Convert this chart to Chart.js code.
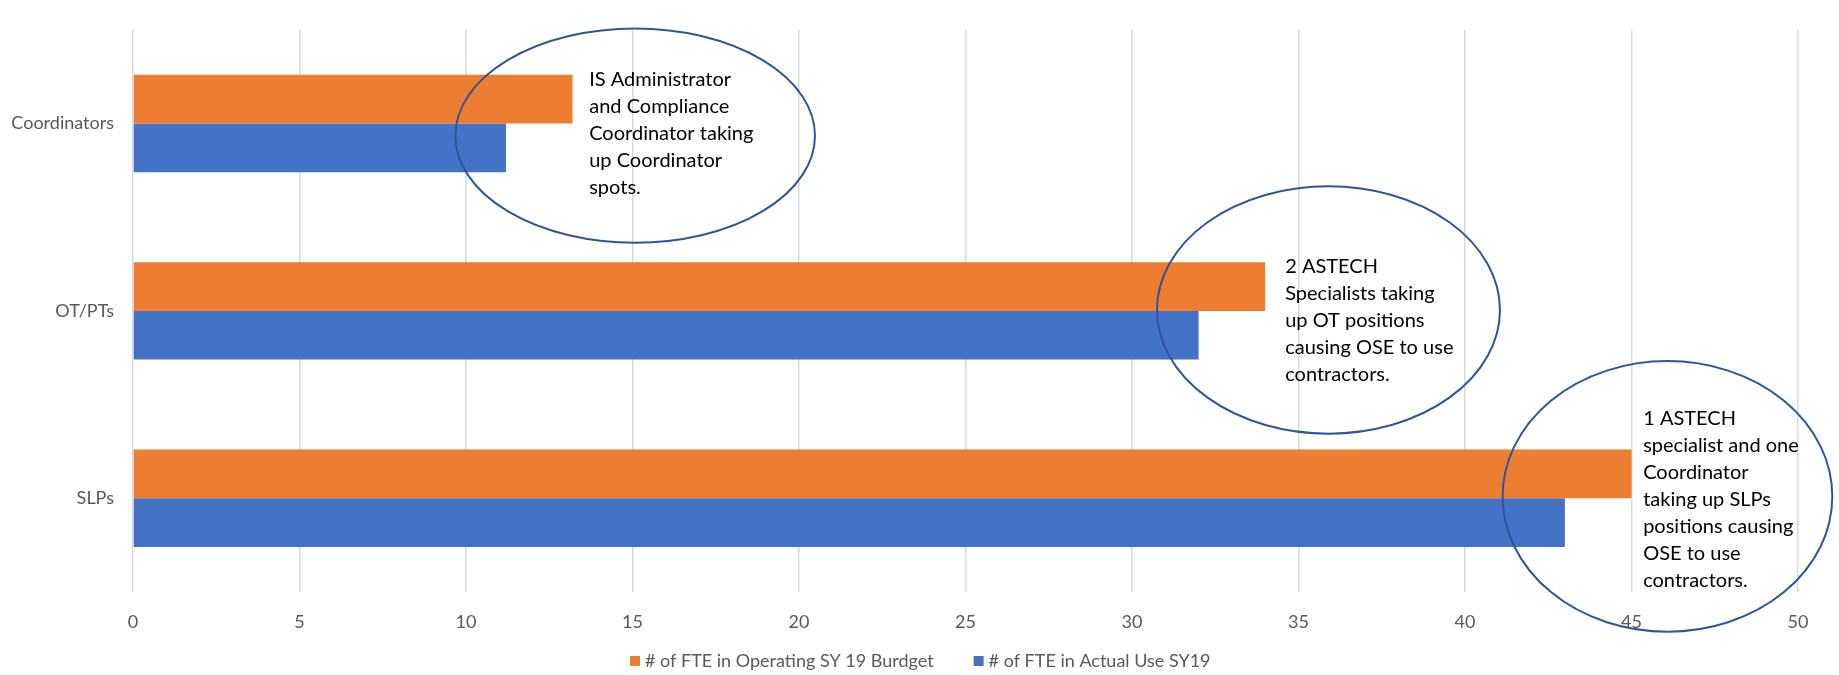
<!DOCTYPE html>
<html>
<head>
<meta charset="utf-8">
<title>FTE by position</title>
<script src="https://cdn.jsdelivr.net/npm/chart.js@4.4.1/dist/chart.umd.min.js"></script>
<style>
  html, body { margin: 0; padding: 0; background: #fff; }
  #wrap { width: 1839px; height: 675px; }
</style>
</head>
<body>
<div id="wrap"><canvas id="fteChart" width="1839" height="675"></canvas></div>
<script>
const categories = ['Coordinators', 'OT/PTs', 'SLPs'];
const budgetFte = [13.2, 34, 45];
const actualFte = [11.2, 32, 43];
const seriesNames = ['# of FTE in Operating SY 19 Burdget', '# of FTE in Actual Use SY19'];
const seriesColors = ['#ED7D31', '#4472C4'];
const xMin = 0;
const xMax = 50;
const xStep = 5;

// callouts: ellipse centre / radii in axis units (x = FTE, y = category rows)
const notes = [
  { row: 0, cx: 15.08, dy: 0.065, rx: 5.4, ry: 0.572, textX: 13.7, textDy: 0.053,
    lines: ['IS Administrator', 'and Compliance', 'Coordinator taking', 'up Coordinator', 'spots.'] },
  { row: 1, cx: 35.9, dy: -0.005, rx: 5.15, ry: 0.66, textX: 34.6, textDy: 0.054,
    lines: ['2 ASTECH', 'Specialists taking', 'up OT positions', 'causing OSE to use', 'contractors.'] },
  { row: 2, cx: 46.08, dy: -0.01, rx: 4.95, ry: 0.722, textX: 45.35, textDy: 0.006,
    lines: ['1 ASTECH', 'specialist and one', 'Coordinator', 'taking up SLPs', 'positions causing', 'OSE to use', 'contractors.'] }
];

const FONT = 'Lato, "Liberation Sans", sans-serif';
const GREY = '#595959';

const calloutPlugin = {
  id: 'callouts',
  afterDatasetsDraw(chart) {
    const { ctx, scales: { x, y } } = chart;
    const rowH = y.getPixelForValue(1) - y.getPixelForValue(0);
    const unit = x.getPixelForValue(1) - x.getPixelForValue(0);
    ctx.save();
    notes.forEach(n => {
      const base = y.getPixelForValue(n.row);
      ctx.beginPath();
      ctx.ellipse(x.getPixelForValue(n.cx), base + n.dy * rowH, n.rx * unit, n.ry * rowH, 0, 0, Math.PI * 2);
      ctx.strokeStyle = '#2F5597';
      ctx.lineWidth = 2;
      ctx.stroke();

      const lh = 27;
      const mid = base + n.textDy * rowH;
      const top = mid - (n.lines.length - 1) * lh / 2;
      ctx.fillStyle = '#000';
      ctx.font = '20px ' + FONT;
      ctx.textAlign = 'left';
      ctx.textBaseline = 'middle';
      n.lines.forEach((t, i) => ctx.fillText(t, x.getPixelForValue(n.textX), top + i * lh));
    });
    ctx.restore();
  }
};

// legend under the axis, left-anchored like the original sheet
const legendPlugin = {
  id: 'sheetLegend',
  afterDraw(chart) {
    const { ctx } = chart;
    let lx = 630;
    const ly = 661;
    ctx.save();
    ctx.font = '18px ' + FONT;
    ctx.textBaseline = 'middle';
    ctx.textAlign = 'left';
    chart.data.datasets.forEach(ds => {
      ctx.fillStyle = ds.backgroundColor;
      ctx.fillRect(lx, ly - 5, 10, 10);
      ctx.fillStyle = GREY;
      ctx.fillText(ds.label, lx + 15, ly);
      lx += 15 + ctx.measureText(ds.label).width + 40;
    });
    ctx.restore();
  }
};

new Chart(document.getElementById('fteChart'), {
  type: 'bar',
  data: {
    labels: categories,
    datasets: [
      { label: seriesNames[0], data: budgetFte, backgroundColor: seriesColors[0] },
      { label: seriesNames[1], data: actualFte, backgroundColor: seriesColors[1] }
    ]
  },
  options: {
    indexAxis: 'y',
    responsive: false,
    animation: false,
    layout: { padding: { top: 26, right: 41, bottom: 43, left: 0 } },
    datasets: { bar: { categoryPercentage: 0.52, barPercentage: 1 } },
    plugins: {
      legend: { display: false },
      tooltip: { enabled: false }
    },
    scales: {
      x: {
        min: xMin,
        max: xMax,
        ticks: { stepSize: xStep, color: GREY, font: { family: FONT, size: 18 }, padding: 19 },
        grid: { color: '#d9d9d9', lineWidth: 1.5, drawTicks: false },
        border: { display: false },
        afterFit(s) { s.height = 40; }
      },
      y: {
        ticks: { color: GREY, font: { family: FONT, size: 18 }, padding: 19 },
        grid: { display: false, drawTicks: false },
        border: { display: false },
        afterFit(s) { s.width = 133; }
      }
    }
  },
  plugins: [calloutPlugin, legendPlugin]
});
</script>
</body>
</html>
